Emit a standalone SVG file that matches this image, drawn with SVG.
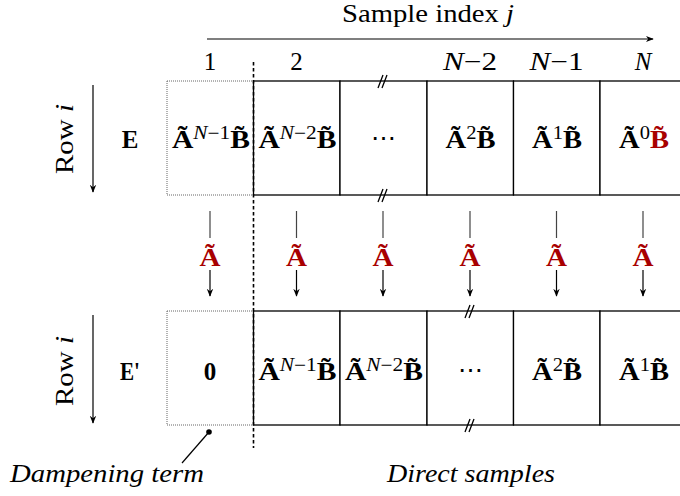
<svg xmlns="http://www.w3.org/2000/svg" width="680" height="496" viewBox="0 0 680 496" font-family="Liberation Serif, DejaVu Serif, serif">
<defs>
<marker id="ah" viewBox="0 0 10 10" refX="9" refY="5" markerWidth="8" markerHeight="8" markerUnits="userSpaceOnUse" orient="auto"><path d="M0,1 L10,5 L0,9 L3,5 Z" fill="#000"/></marker>
<style>
text{fill:#000}
.lab{font-size:25px}
.m{font-size:25px;font-weight:bold;text-anchor:middle}
.sup{font-size:18px;font-weight:normal}
.it{font-style:italic}
.red{fill:#a80000}
.cell{fill:#fff;stroke:#000;stroke-width:1.3}
.dcell{fill:#fff;stroke:#666;stroke-width:1;stroke-dasharray:1 1}
.ln{stroke:#000;stroke-width:1.2;fill:none}
.gl{stroke:#444;stroke-width:1.2;fill:none}
.brk{stroke:#000;stroke-width:1.3;fill:none}
</style>
</defs>
<rect width="680" height="496" fill="#fff"/>

<g id="axis">
<line class="ln" x1="207" y1="39" x2="653" y2="39" marker-end="url(#ah)"/>
<text class="lab" x="428" y="22" text-anchor="middle" textLength="172" lengthAdjust="spacingAndGlyphs">Sample index <tspan class="it">j</tspan></text>
<text class="lab" x="210" y="70" text-anchor="middle">1</text>
<text class="lab" x="296.5" y="70" text-anchor="middle">2</text>
<text class="lab" x="470" y="70" text-anchor="middle" textLength="54" lengthAdjust="spacingAndGlyphs"><tspan class="it">N</tspan>−2</text>
<text class="lab" x="556.5" y="70" text-anchor="middle" textLength="54" lengthAdjust="spacingAndGlyphs"><tspan class="it">N</tspan>−1</text>
<text class="lab it" x="643" y="70" text-anchor="middle">N</text>
</g>

<g id="row-label-E">
<text class="lab" transform="translate(73,139) rotate(-90)" text-anchor="middle" textLength="70" lengthAdjust="spacingAndGlyphs">Row <tspan class="it">i</tspan></text>
<line class="ln" x1="93" y1="85" x2="93" y2="192" marker-end="url(#ah)"/>
<text class="m" x="130" y="148">E</text>
</g>
<g id="row-label-E2">
<text class="lab" transform="translate(73,371) rotate(-90)" text-anchor="middle" textLength="70" lengthAdjust="spacingAndGlyphs">Row <tspan class="it">i</tspan></text>
<line class="ln" x1="93" y1="315" x2="93" y2="423" marker-end="url(#ah)"/>
<text class="m" x="130" y="380" textLength="20" lengthAdjust="spacingAndGlyphs">E'</text>
</g>

<g id="row-E">
<rect class="dcell" x="167" y="81" width="86.5" height="114"/>
<rect class="cell" x="253.5" y="81" width="86.5" height="114"/>
<rect class="cell" x="340" y="81" width="87" height="114"/>
<rect class="cell" x="427" y="81" width="86.5" height="114"/>
<rect class="cell" x="513.5" y="81" width="86.5" height="114"/>
<rect class="cell" x="600" y="81" width="90" height="114"/>
<text class="m" x="211" y="148" textLength="78" lengthAdjust="spacingAndGlyphs">Ã<tspan class="sup" dy="-9"><tspan class="it">N</tspan>−1</tspan><tspan dy="9">B̃</tspan></text>
<text class="m" x="297.5" y="148" textLength="78" lengthAdjust="spacingAndGlyphs">Ã<tspan class="sup" dy="-9"><tspan class="it">N</tspan>−2</tspan><tspan dy="9">B̃</tspan></text>
<text class="lab" x="383" y="146" text-anchor="middle">⋯</text>
<text class="m" x="470.5" y="148" textLength="50" lengthAdjust="spacingAndGlyphs">Ã<tspan class="sup" dy="-9">2</tspan><tspan dy="9">B̃</tspan></text>
<text class="m" x="557" y="148" textLength="50" lengthAdjust="spacingAndGlyphs">Ã<tspan class="sup" dy="-9">1</tspan><tspan dy="9">B̃</tspan></text>
<text class="m" x="644" y="148" textLength="50" lengthAdjust="spacingAndGlyphs">Ã<tspan class="sup" dy="-9">0</tspan><tspan dy="9" class="red">B̃</tspan></text>
<path class="brk" d="M378,88 L383,75 M382,88 L387,75 M378,202 L383,189 M382,202 L387,189"/>
</g>

<g id="row-E2">
<rect class="dcell" x="167" y="311" width="86.5" height="114"/>
<rect class="cell" x="253.5" y="311" width="86.5" height="114"/>
<rect class="cell" x="340" y="311" width="87" height="114"/>
<rect class="cell" x="427" y="311" width="86.5" height="114"/>
<rect class="cell" x="513.5" y="311" width="86.5" height="114"/>
<rect class="cell" x="600" y="311" width="90" height="114"/>
<text class="m" x="210" y="380">0</text>
<text class="m" x="297.5" y="380" textLength="78" lengthAdjust="spacingAndGlyphs">Ã<tspan class="sup" dy="-9"><tspan class="it">N</tspan>−1</tspan><tspan dy="9">B̃</tspan></text>
<text class="m" x="384" y="380" textLength="78" lengthAdjust="spacingAndGlyphs">Ã<tspan class="sup" dy="-9"><tspan class="it">N</tspan>−2</tspan><tspan dy="9">B̃</tspan></text>
<text class="lab" x="470" y="378" text-anchor="middle">⋯</text>
<text class="m" x="557" y="380" textLength="50" lengthAdjust="spacingAndGlyphs">Ã<tspan class="sup" dy="-9">2</tspan><tspan dy="9">B̃</tspan></text>
<text class="m" x="644" y="380" textLength="50" lengthAdjust="spacingAndGlyphs">Ã<tspan class="sup" dy="-9">1</tspan><tspan dy="9">B̃</tspan></text>
<path class="brk" d="M465,318 L470,305 M469,318 L474,305 M465,432 L470,419 M469,432 L474,419"/>
</g>

<g id="connectors">
<line x1="253.5" y1="62" x2="253.5" y2="448" stroke="#000" stroke-width="1.6" stroke-dasharray="3.5 2.5"/>
<line class="gl" x1="210" y1="211" x2="210" y2="238"/><line class="ln" x1="210" y1="270" x2="210" y2="296" marker-end="url(#ah)"/>
<line class="gl" x1="296.5" y1="211" x2="296.5" y2="238"/><line class="ln" x1="296.5" y1="270" x2="296.5" y2="296" marker-end="url(#ah)"/>
<line class="gl" x1="383" y1="211" x2="383" y2="238"/><line class="ln" x1="383" y1="270" x2="383" y2="296" marker-end="url(#ah)"/>
<line class="gl" x1="470" y1="211" x2="470" y2="238"/><line class="ln" x1="470" y1="270" x2="470" y2="296" marker-end="url(#ah)"/>
<line class="gl" x1="556.5" y1="211" x2="556.5" y2="238"/><line class="ln" x1="556.5" y1="270" x2="556.5" y2="296" marker-end="url(#ah)"/>
<line class="gl" x1="643" y1="211" x2="643" y2="238"/><line class="ln" x1="643" y1="270" x2="643" y2="296" marker-end="url(#ah)"/>
<text class="m red" x="210" y="266" textLength="21" lengthAdjust="spacingAndGlyphs">Ã</text>
<text class="m red" x="296.5" y="266" textLength="21" lengthAdjust="spacingAndGlyphs">Ã</text>
<text class="m red" x="383" y="266" textLength="21" lengthAdjust="spacingAndGlyphs">Ã</text>
<text class="m red" x="470" y="266" textLength="21" lengthAdjust="spacingAndGlyphs">Ã</text>
<text class="m red" x="556.5" y="266" textLength="21" lengthAdjust="spacingAndGlyphs">Ã</text>
<text class="m red" x="643" y="266" textLength="21" lengthAdjust="spacingAndGlyphs">Ã</text>
<circle cx="209" cy="432" r="2.8" fill="#000"/>
<line class="ln" x1="209" y1="432" x2="182" y2="463"/>
</g>

<g id="notes">
<text class="lab it" x="107" y="482" text-anchor="middle" textLength="194" lengthAdjust="spacingAndGlyphs">Dampening term</text>
<text class="lab it" x="471" y="482" text-anchor="middle" textLength="168" lengthAdjust="spacingAndGlyphs">Direct samples</text>
</g>
</svg>
